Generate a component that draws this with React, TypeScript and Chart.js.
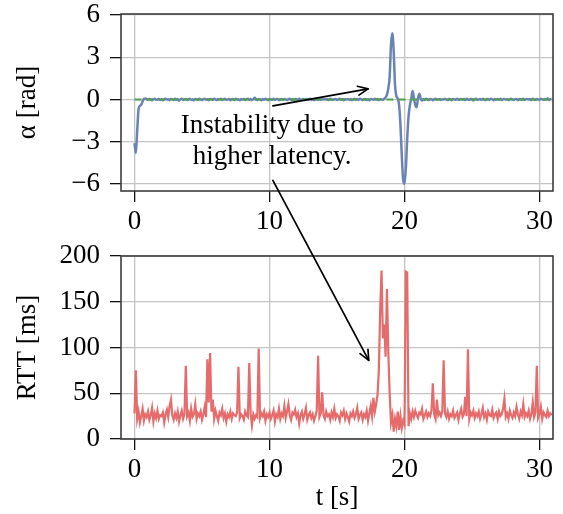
import React, { useEffect, useRef, useState } from 'react';
import { Chart, registerables } from 'chart.js';

Chart.register(...registerables);

// sample interval of the recorded series [s]
const DT = 0.1;

const X_TICKS = [0, 10, 20, 30];
const ALPHA_TICKS = [-6, -3, 0, 3, 6];
const RTT_TICKS = [0, 50, 100, 150, 200];

// pendulum angle alpha [rad], one value every DT seconds starting at t = 0
const ALPHA = [
  -3.1, -3.8, -2.2, -0.7, -0.45, -0.38, -0.15, 0.05, 0.07, 0.03,
  -0.02, 0.04, 0.01, -0.05, 0.03, 0.06, -0.02, 0.0, 0.04, -0.03,
  0.02, -0.06, 0.03, 0.05, -0.01, 0.02, -0.05, 0.04, 0.01, -0.03,
  0.05, -0.02, 0.03, -0.09, 0.02, 0.06, -0.03, 0.0, 0.04, -0.04,
  0.03, 0.05, -0.02, 0.01, -0.06, 0.04, 0.02, -0.03, 0.05, 0.0,
  -0.04, 0.03, 0.06, -0.02, 0.01, -0.05, 0.04, 0.02, -0.03, 0.05,
  0.01, -0.04, 0.03, -0.01, 0.05, -0.03, 0.02, 0.06, -0.02, 0.0,
  0.04, -0.05, 0.02, 0.03, -0.03, 0.05, -0.01, 0.02, -0.06, 0.03,
  0.0, 0.04, -0.03, 0.02, 0.05, -0.02, 0.03, -0.04, 0.01, 0.12,
  0.02, -0.03, 0.04, 0.01, -0.05, 0.03, -0.02, 0.05, 0.0, -0.04,
  0.03, 0.01, -0.02, 0.05, -0.03, 0.02, 0.04, -0.05, 0.01, 0.03,
  -0.02, 0.04, 0.0, -0.04, 0.03, 0.06, -0.02, 0.01, -0.05, 0.03,
  0.02, -0.03, 0.05, 0.0, -0.02, 0.04, -0.04, 0.02, 0.03, -0.01,
  0.05, -0.03, 0.02, -0.05, 0.03, 0.01, -0.02, 0.04, -0.03, 0.02,
  0.0, 0.04, -0.02, 0.03, -0.04, 0.05, 0.01, -0.03, 0.02, 0.04,
  -0.03, 0.02, 0.05, -0.01, 0.03, -0.05, 0.02, 0.0, 0.04, -0.02,
  0.03, -0.04, 0.01, 0.05, -0.02, 0.03, -0.03, 0.06, 0.01, -0.04,
  0.02, 0.04, -0.03, 0.01, -0.05, 0.03, 0.02, -0.02, 0.05, -0.01,
  0.03, -0.04, 0.02, 0.0, -0.03, 0.05, 0.15, 0.35, 0.8, 1.6,
  3.9, 4.7, 3.4, 1.0, 0.25, 0.05, -0.4, -1.8, -4.0, -5.7,
  -6.0, -4.9, -2.8, -1.2, -0.4, 0.05, 0.6, 0.1, -0.4, -0.55,
  0.1, 0.4, 0.05, -0.08, 0.04, -0.03, 0.06, 0.01, -0.04, 0.03,
  0.02, -0.05, 0.03, 0.05, -0.02, 0.01, 0.04, -0.03, 0.02, -0.01,
  0.05, 0.0, -0.04, 0.03, 0.02, -0.05, 0.04, 0.01, -0.02, 0.06,
  -0.03, 0.02, 0.04, -0.01, 0.03, -0.04, 0.05, 0.0, -0.02, 0.03,
  0.04, -0.08, 0.02, 0.05, -0.03, 0.01, 0.03, -0.02, 0.06, 0.0,
  -0.04, 0.03, 0.01, -0.02, 0.05, 0.02, -0.05, 0.03, 0.0, 0.04,
  -0.02, 0.05, -0.03, 0.01, 0.04, -0.01, 0.02, -0.04, 0.03, 0.05,
  0.0, -0.03, 0.04, 0.02, -0.05, 0.03, 0.01, -0.02, 0.05, -0.03,
  0.02, 0.04, -0.01, 0.03, -0.04, 0.06, 0.0, -0.02, 0.03, 0.01,
  -0.03, 0.05, 0.02, -0.02, 0.04, 0.0, 0.07, -0.03, 0.02, 0.04,
];

// reference angle (green dashed)
const ALPHA_REF_T = [0, 31];
const ALPHA_REF = [0, 0];

// round-trip time [ms], one value every DT seconds starting at t = 0
const RTT = [
  28, 75, 22, 30, 18, 25, 33, 20, 27, 24,
  30, 21, 26, 34, 19, 28, 23, 31, 22, 26,
  25, 29, 18, 27, 32, 24, 36, 43, 26, 21,
  28, 23, 30, 19, 26, 31, 22, 27, 80, 25,
  29, 20, 33, 24, 27, 38, 22, 28, 25, 30,
  21, 27, 35, 24, 87, 40, 94, 30, 43, 22,
  31, 25, 20, 29, 26, 33, 23, 28, 19, 27,
  24, 30, 22, 28, 26, 25, 29, 79, 23, 27,
  25, 21, 30, 26, 24, 83, 28, 15, 27, 22,
  26, 24, 99, 23, 28, 25, 30, 20, 27, 24,
  29, 22, 26, 31, 19, 27, 24, 33, 22, 28,
  25, 36, 23, 30, 38, 26, 21, 29, 27, 32,
  24, 28, 17, 26, 30, 22, 27, 34, 21, 26,
  29, 23, 27, 20, 25, 31, 91, 24, 28, 51,
  26, 22, 30, 25, 27, 21, 29, 24, 33, 23,
  27, 25, 20, 29, 26, 31, 22, 28, 24, 19,
  28, 25, 30, 23, 27, 34, 22, 26, 29, 21,
  27, 24, 31, 20, 28, 36, 25, 45, 30, 38,
  48, 75, 142, 184, 110, 125, 90, 164, 95, 50,
  18, 26, 8, 22, 14, 30, 10, 25, 12, 20,
  16, 183, 182, 14, 28, 22, 30, 24, 31, 26,
  23, 29, 27, 33, 22, 26, 30, 24, 28, 25,
  31, 61, 27, 22, 43, 26, 29, 25, 30, 86,
  28, 24, 30, 22, 27, 25, 31, 23, 26, 29,
  21, 28, 33, 24, 27, 46, 25, 98, 22, 29,
  26, 31, 23, 28, 25, 30, 22, 27, 34, 24,
  28, 21, 30, 26, 25, 32, 23, 27, 29, 22,
  30, 25, 27, 33, 44, 24, 28, 22, 31, 26,
  23, 29, 25, 35, 27, 22, 30, 26, 38, 24,
  28, 25, 31, 22, 27, 40, 24, 29, 80, 23,
  27, 35, 22, 29, 26, 24, 31, 25, 28, 26,
];

const ANNOT_LINES = ['Instability due to', 'higher latency.'];

const FONT = 'Liberation Serif, Times New Roman, serif';
const FS = 27;

const framePlugin = {
  id: 'frame',
  afterDraw(chart: any) {
    const { ctx, chartArea: a } = chart;
    ctx.save();
    ctx.strokeStyle = '#3d3d3d';
    ctx.lineWidth = 1.6;
    ctx.strokeRect(a.left, a.top, a.right - a.left, a.bottom - a.top);
    ctx.restore();
  },
};

function axisX(ticks: number[], height: number, title?: string) {
  return {
    type: 'linear',
    min: -1,
    max: 31,
    afterBuildTicks: (s: any) => { s.ticks = ticks.map((v) => ({ value: v })); },
    afterFit: (s: any) => { s.height = height; s.paddingLeft = 0; s.paddingRight = 0; },
    ticks: { color: '#000', font: { family: FONT, size: FS }, padding: 4, maxRotation: 0 },
    grid: { color: '#c4c4c4', lineWidth: 1.3, tickColor: '#111', tickLength: 11, drawTicks: true },
    border: { display: false },
    title: title
      ? { display: true, text: title, color: '#000', font: { family: FONT, size: FS }, padding: { top: 0, bottom: 0 } }
      : { display: false },
  };
}

function axisY(min: number, max: number, ticks: number[], title: string, width: number) {
  return {
    type: 'linear',
    min,
    max,
    afterBuildTicks: (s: any) => { s.ticks = ticks.map((v) => ({ value: v })); },
    afterFit: (s: any) => { s.width = width; s.paddingTop = 0; s.paddingBottom = 0; },
    ticks: {
      color: '#000',
      font: { family: FONT, size: FS },
      padding: 10,
      callback: (v: number) => (v < 0 ? '\u2212' + Math.abs(v) : String(v)),
    },
    grid: { color: '#c4c4c4', lineWidth: 1.3, tickColor: '#111', tickLength: 11, drawTicks: true },
    border: { display: false },
    title: { display: true, text: title, color: '#000', font: { family: FONT, size: FS }, padding: { top: 12, bottom: 0 } },
  };
}

type Pt = { x: number; y: number };

function arrowHead(from: Pt, to: Pt, len = 11, ang = 0.42) {
  const th = Math.atan2(to.y - from.y, to.x - from.x);
  const a = { x: to.x - len * Math.cos(th - ang), y: to.y - len * Math.sin(th - ang) };
  const b = { x: to.x - len * Math.cos(th + ang), y: to.y - len * Math.sin(th + ang) };
  return `${a.x},${a.y} ${to.x},${to.y} ${b.x},${b.y}`;
}

export default function App() {
  const topRef = useRef<HTMLCanvasElement>(null);
  const botRef = useRef<HTMLCanvasElement>(null);
  const [ann, setAnn] = useState<any>(null);

  useEffect(() => {
    const alphaPts = ALPHA.map((v, i) => ({ x: +(i * DT).toFixed(2), y: v }));
    const refPts = ALPHA_REF.map((v, i) => ({ x: ALPHA_REF_T[i], y: v }));
    const rttPts = RTT.map((v, i) => ({ x: +(i * DT).toFixed(2), y: v }));

    const top = new Chart(topRef.current!, {
      type: 'line',
      data: {
        datasets: [
          {
            data: refPts,
            borderColor: '#4fa04f',
            borderWidth: 2,
            borderDash: [7, 5],
            pointRadius: 0,
            order: 0,
          },
          {
            data: alphaPts,
            borderColor: '#6a83b6',
            borderWidth: 2.5,
            pointRadius: 0,
            cubicInterpolationMode: 'monotone',
            order: 1,
          },
        ],
      },
      options: {
        responsive: false,
        animation: false,
        events: [],
        layout: { padding: { top: 14, right: 10, left: 0, bottom: 0 } },
        plugins: { legend: { display: false }, tooltip: { enabled: false } },
        scales: {
          x: axisX(X_TICKS, 49),
          y: axisY(-6.5, 6.07, ALPHA_TICKS, 'α [rad]', 121),
        },
      } as any,
      plugins: [framePlugin],
    });

    const bot = new Chart(botRef.current!, {
      type: 'line',
      data: {
        datasets: [
          {
            data: rttPts,
            borderColor: 'rgb(230,108,108)',
            borderWidth: 2.2,
            pointRadius: 0,
          },
        ],
      },
      options: {
        responsive: false,
        animation: false,
        events: [],
        layout: { padding: { top: 16, right: 10, left: 0, bottom: 0 } },
        plugins: { legend: { display: false }, tooltip: { enabled: false } },
        scales: {
          x: axisX(X_TICKS, 75, 't [s]'),
          y: axisY(0, 200, RTT_TICKS, 'RTT [ms]', 121),
        },
      } as any,
      plugins: [framePlugin],
    });

    const tx = top.scales.x, ty = top.scales.y, bx = bot.scales.x, by = bot.scales.y;
    const botOffset = 240;
    setAnn({
      textX: tx.getPixelForValue(10.2),
      textY1: ty.getPixelForValue(-2.4),
      textY2: ty.getPixelForValue(-4.6),
      a1from: { x: tx.getPixelForValue(10.25), y: ty.getPixelForValue(-0.45) },
      a1to: { x: tx.getPixelForValue(17.3), y: ty.getPixelForValue(0.75) },
      a2from: { x: tx.getPixelForValue(10.25), y: ty.getPixelForValue(-5.75) },
      a2to: { x: bx.getPixelForValue(17.35), y: by.getPixelForValue(86) + botOffset },
    });

    return () => {
      top.destroy();
      bot.destroy();
    };
  }, []);

  return (
    <div style={{ position: 'absolute', left: 0, top: 0, width: 563, height: 514, background: '#fff' }}>
      <canvas ref={topRef} width={563} height={240} style={{ position: 'absolute', left: 0, top: 0 }} />
      <canvas ref={botRef} width={563} height={274} style={{ position: 'absolute', left: 0, top: 240 }} />
      {ann && (
        <svg width={563} height={514} style={{ position: 'absolute', left: 0, top: 0, pointerEvents: 'none' }}>
          <g stroke="#000" strokeWidth={1.7} fill="none" strokeLinecap="round" strokeLinejoin="round">
            <line x1={ann.a1from.x} y1={ann.a1from.y} x2={ann.a1to.x} y2={ann.a1to.y} />
            <polyline points={arrowHead(ann.a1from, ann.a1to)} />
            <line x1={ann.a2from.x} y1={ann.a2from.y} x2={ann.a2to.x} y2={ann.a2to.y} />
            <polyline points={arrowHead(ann.a2from, ann.a2to)} />
          </g>
          <text x={ann.textX} y={ann.textY1} textAnchor="middle" fontFamily={FONT} fontSize={FS} fill="#000">
            {ANNOT_LINES[0]}
          </text>
          <text x={ann.textX} y={ann.textY2} textAnchor="middle" fontFamily={FONT} fontSize={FS} fill="#000">
            {ANNOT_LINES[1]}
          </text>
        </svg>
      )}
    </div>
  );
}
